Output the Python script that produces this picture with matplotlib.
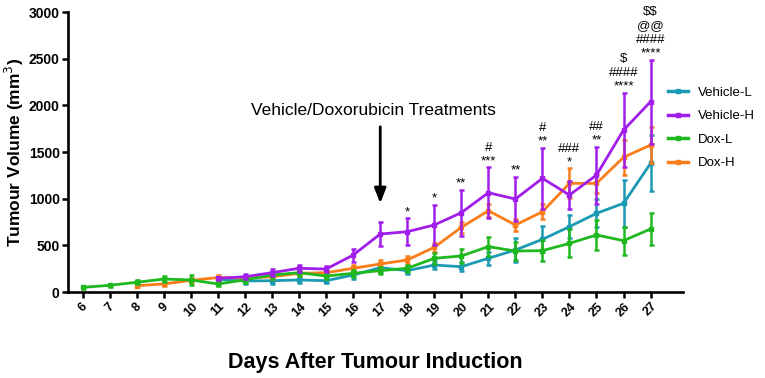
import matplotlib
matplotlib.use("Agg")
import matplotlib.pyplot as plt
from matplotlib.lines import Line2D
import numpy as np

# ---- data ----
days = list(range(6, 28))

veh_l_days = list(range(11, 28))
veh_l = [135, 118, 121, 129, 121, 182, 261, 229, 289, 271, 361, 450, 564, 700, 843, 950, 1378]
veh_l_err = [20, 30, 30, 30, 25, 40, 45, 40, 45, 50, 70, 125, 140, 125, 150, 250, 300]

veh_h_days = list(range(11, 28))
veh_h = [146, 164, 207, 254, 246, 396, 621, 646, 718, 850, 1064, 996, 1218, 1039, 1253, 1735, 2039]
veh_h_err = [20, 25, 40, 40, 30, 70, 125, 145, 215, 245, 270, 240, 330, 145, 305, 400, 450]

dox_l_days = list(range(6, 28))
dox_l = [50, 72, 104, 139, 129, 86, 130, 182, 207, 171, 200, 229, 254, 361, 386, 486, 439, 443, 521, 611, 550, 675]
dox_l_err = [15, 15, 20, 30, 50, 20, 30, 40, 40, 35, 40, 40, 40, 60, 70, 100, 100, 115, 150, 160, 150, 175]

dox_h_days = list(range(8, 28))
dox_h = [68, 86, 125, 155, 150, 164, 200, 207, 254, 300, 343, 479, 693, 871, 718, 860, 1164, 1164, 1443, 1575]
dox_h_err = [15, 20, 25, 25, 25, 30, 30, 30, 35, 40, 40, 50, 60, 70, 60, 80, 160, 100, 190, 195]

sig_days = [18, 19, 20, 21, 22, 23, 24, 25, 26, 27]
sig_labels = ["*", "*", "**", "#\n***", "**", "#\n**", "###\n*", "##\n**",
              "\\$\n####\n****", "\\$\\$\n@@\n####\n****"]

series = [
    ("Vehicle-L", veh_l_days, veh_l, veh_l_err, "#1B9BB3", 2),
    ("Vehicle-H", veh_h_days, veh_h, veh_h_err, "#A11EEA", 5),
    ("Dox-L", dox_l_days, dox_l, dox_l_err, "#1FB81F", 4),
    ("Dox-H", dox_h_days, dox_h, dox_h_err, "#FA7D1A", 3),
]

fig = plt.figure(figsize=(7.65, 3.78), dpi=100)
ax = fig.add_axes([68 / 765, 86 / 378, 615 / 765, 280 / 378])

handles = []
for name, x, y, e, c, z in series:
    ax.errorbar(x, y, yerr=e, color=c, lw=2.0, elinewidth=1.8, capsize=1.8,
                capthick=1.8, marker='s', ms=3.5, zorder=z)
    handles.append(Line2D([], [], color=c, lw=2.5, marker='s', ms=3.5))

# significance annotations above the highest error bar of each day
tops = {}
for name, x, y, e, c, z in series:
    for xi, yi, ei in zip(x, y, e):
        tops[xi] = max(tops.get(xi, 0), yi + ei)
for d, lab in zip(sig_days, sig_labels):
    ax.annotate(lab, xy=(d, tops[d]), xytext=(0, 0), textcoords='offset points',
                ha='center', va='bottom', fontsize=9.5, linespacing=1.2,
                family=['Liberation Sans', 'DejaVu Sans'], zorder=10)

# treatment arrow
ax.annotate("", xy=(17, 950), xytext=(17, 1770),
            arrowprops=dict(arrowstyle='-|>,head_width=0.35,head_length=0.9',
                            color='black', lw=2.0, shrinkA=0, shrinkB=0))
ax.text(16.75, 1950, "Vehicle/Doxorubicin Treatments", ha='center', va='center',
        fontsize=12.5, family='Liberation Sans')

ax.set_xlim(5.45, 28.2)
ax.set_ylim(0, 3000)
ax.set_yticks(np.arange(0, 3001, 500))
ax.set_xticks(days)
ax.set_xticklabels([str(d) for d in days], rotation=45, ha='center',
                   fontsize=9, fontweight='bold', family='Liberation Sans')
for lab in ax.get_yticklabels():
    lab.set_fontsize(10)
    lab.set_fontweight('bold')
    lab.set_family('Liberation Sans')

for s in ['top', 'right']:
    ax.spines[s].set_visible(False)
for s in ['left', 'bottom']:
    ax.spines[s].set_linewidth(1.9)
ax.tick_params(axis='both', length=4, width=1.8, direction='out', pad=2)

ax.set_ylabel("Tumour Volume (mm$^3$)", fontsize=12.5, fontweight='bold',
              family='Liberation Sans', labelpad=2)
ax.set_xlabel("Days After Tumour Induction", fontsize=15.5, fontweight='bold',
              family='Liberation Sans', labelpad=24)

leg = fig.legend(handles=handles, labels=[s[0] for s in series],
                 loc='center left', bbox_to_anchor=(668 / 765, 1 - 128 / 378),
                 frameon=False, handlelength=1.5, handletextpad=0.8,
                 labelspacing=0.85, borderaxespad=0, borderpad=0,
                 prop={'family': 'Liberation Sans', 'size': 9.5})

fig.savefig("out.png", dpi=100)
